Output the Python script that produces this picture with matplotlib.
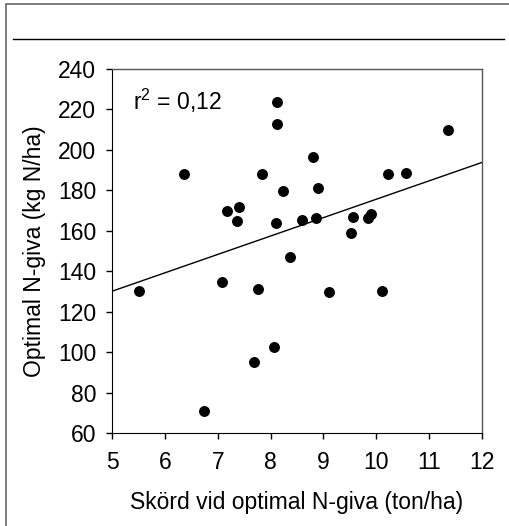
import matplotlib
matplotlib.use('Agg')
import matplotlib.pyplot as plt
from matplotlib.patches import Rectangle
from matplotlib.lines import Line2D
import numpy as np

# yield at optimal N rate (ton/ha) and optimal N rate (kg N/ha)
skord = [5.52, 6.36, 6.74, 7.08, 7.18, 7.41, 7.37, 7.68, 7.76, 7.84,
         8.06, 8.10, 8.12, 8.12, 8.23, 8.36, 8.59, 8.81, 8.86, 8.90,
         9.11, 9.52, 9.56, 9.85, 9.90, 10.11, 10.22, 10.57, 11.35]
n_giva = [130.4, 187.9, 70.8, 134.9, 169.6, 171.8, 164.8, 95.0, 131.3, 187.9,
          102.5, 163.6, 223.5, 213.0, 179.9, 146.8, 165.4, 196.6, 166.4, 181.1,
          129.5, 158.7, 166.9, 166.3, 168.3, 130.3, 188.2, 188.6, 209.8]

# regression line as printed in the chart
fit_intercept = 84.6
fit_slope = 9.1
r2_text = 'r$^2$ = 0,12'

x_ticks = [5, 6, 7, 8, 9, 10, 11, 12]
y_ticks = [60, 80, 100, 120, 140, 160, 180, 200, 220, 240]

plt.rcParams['font.family'] = ['Liberation Sans', 'DejaVu Sans']
plt.rcParams['mathtext.fontset'] = 'custom'
plt.rcParams['mathtext.rm'] = 'Liberation Sans'
plt.rcParams['mathtext.it'] = 'Liberation Sans'

W, H = 510, 526
fs = 16.5
fig = plt.figure(figsize=(W / 100, H / 100), dpi=100)
ax = fig.add_axes([112 / W, (H - 433) / H, (482 - 112) / W, (433 - 69) / H])

ax.scatter(skord, n_giva, s=62, color='black', zorder=3, linewidths=0)
xl = np.array([5, 12])
ax.plot(xl, fit_intercept + fit_slope * xl, color='black', lw=1)

ax.set_xlim(5, 12)
ax.set_ylim(60, 240)
ax.set_xticks(x_ticks)
ax.set_yticks(y_ticks)
ax.tick_params(direction='out', length=4.3, width=1, labelsize=fs)
ax.tick_params(axis='x', pad=9)
ax.tick_params(axis='y', pad=7)
for s in ['left', 'bottom']:
    ax.spines[s].set_color('black')
for s in ['top', 'right']:
    ax.spines[s].set_color('#555555')
    ax.spines[s].set_linewidth(1)

ax.set_xlabel('Skörd vid optimal N-giva (ton/ha)', fontsize=fs, labelpad=12)
ax.set_ylabel('Optimal N-giva (kg N/ha)', fontsize=fs, labelpad=9)
ax.text(5.39, 220, r2_text, fontsize=fs, va='baseline')

# outer frame and separator line
fig.patches.append(Rectangle((6 / W, -0.1), 1.2, (H - 4) / H + 0.1,
                             transform=fig.transFigure, fill=False,
                             edgecolor='#666666', lw=1.2))
fig.lines.append(Line2D([13 / W, 504 / W], [(H - 39) / H] * 2,
                        transform=fig.transFigure, color='black', lw=1))

fig.savefig('out.png', dpi=100)
